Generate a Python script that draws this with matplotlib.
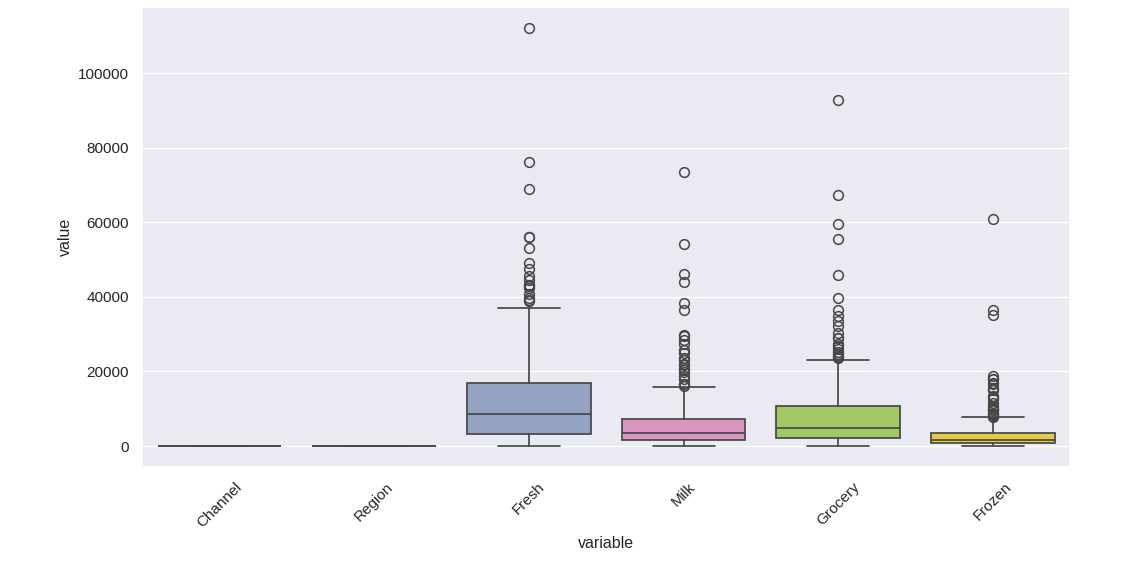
import matplotlib
matplotlib.use("Agg")
import matplotlib.pyplot as plt
import seaborn as sns

sns.set_theme(style="darkgrid")
plt.rcParams['font.family'] = ['Liberation Sans', 'DejaVu Sans']

categories = ['Channel', 'Region', 'Fresh', 'Milk', 'Grocery', 'Frozen']

q1 = [1, 2, 3128, 1533, 2153, 742]
med = [1, 3, 8504, 3627, 4756, 1526]
q3 = [2, 3, 16934, 7190, 10656, 3554]
whislo = [1, 1, 3, 55, 3, 25]
whishi = [2, 3, 37036, 15729, 23127, 7782]

fliers_fresh = [112151, 76237, 68951, 56159, 56083, 53205, 49063, 47493, 45640,
                44466, 43265, 43088, 42786, 42312, 40721, 39679, 39228, 38793]
fliers_milk = [73498, 54259, 46197, 43950, 38369, 36423, 29892, 29627, 28326,
               27472, 25862, 25071, 23527, 23133, 22044, 21858, 20959, 20484,
               19805, 18664, 17972, 16729, 16599, 16225]
fliers_grocery = [92780, 67298, 59598, 55571, 45828, 39694, 36486, 34792, 33586,
                  32114, 30243, 28986, 28921, 27380, 26870, 26839, 25957, 25114,
                  24708, 24185, 23998, 23596]
fliers_frozen = [60869, 36534, 35009, 18711, 18028, 17866, 16919, 16745, 15601,
                 15348, 15082, 13486, 13223, 12569, 11559, 10643, 10155, 9806,
                 9735, 9584, 8853, 8620, 8321, 8132, 7888]
fliers = [[], [], fliers_fresh, fliers_milk, fliers_grocery, fliers_frozen]

stats = []
for i, name in enumerate(categories):
  stats.append(dict(label=name, q1=q1[i], med=med[i], q3=q3[i],
                    whislo=whislo[i], whishi=whishi[i], fliers=fliers[i]))

palette = [sns.desaturate(c, 0.75) for c in sns.color_palette("Set2", len(categories))]
line_col = "#474747"

fig, ax = plt.subplots(figsize=(11.29, 5.62), dpi=100)
fig.subplots_adjust(left=0.126, right=0.948, top=0.988, bottom=0.169)

bp = ax.bxp(stats, positions=range(len(categories)), widths=0.8, patch_artist=True,
            boxprops=dict(edgecolor=line_col, linewidth=1.25),
            medianprops=dict(color=line_col, linewidth=1.25),
            whiskerprops=dict(color=line_col, linewidth=1.25),
            capprops=dict(color=line_col, linewidth=1.25),
            capwidths=0.4,
            flierprops=dict(marker='o', markerfacecolor='none', markeredgecolor=line_col,
                            markersize=7, markeredgewidth=1.1))
for patch, c in zip(bp['boxes'], palette):
  patch.set_facecolor(c)

ax.set_xlim(-0.5, len(categories) - 0.5)
ax.set_xticks(range(len(categories)))
ax.set_xticklabels(categories, rotation=45, fontsize=11)
ax.tick_params(axis='y', labelsize=11)
ax.set_xlabel('variable', fontsize=11.5)
ax.set_ylabel('value', fontsize=11.5)
ax.xaxis.grid(False)

fig.savefig('out.png')
